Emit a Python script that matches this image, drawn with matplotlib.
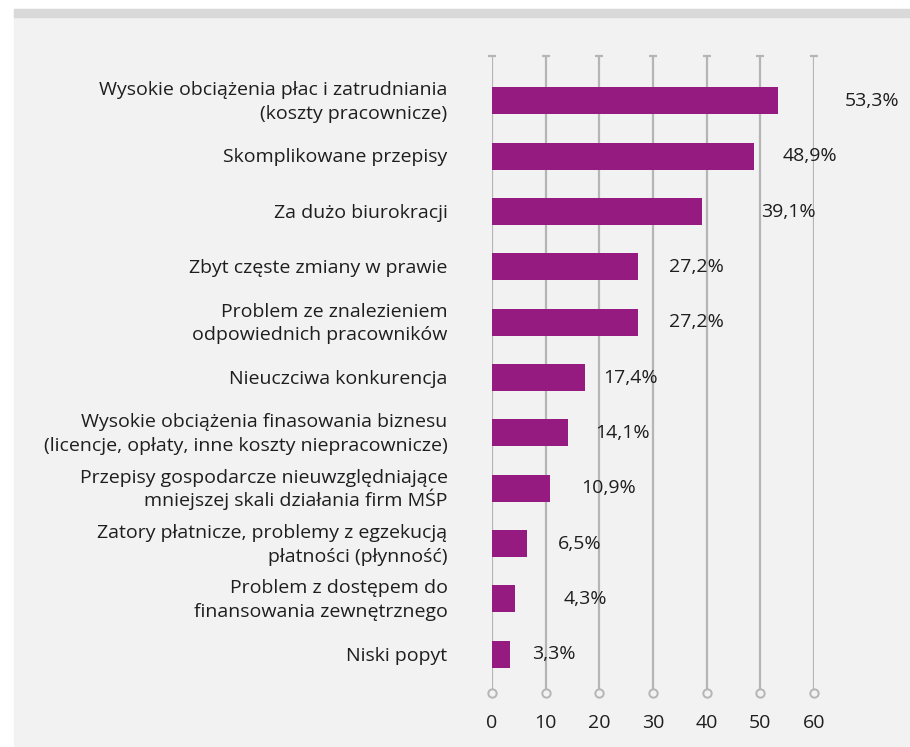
import numpy as np
import matplotlib.pyplot as plt
from matplotlib.patches import Rectangle

plt.rcParams['font.family'] = ['Open Sans', 'DejaVu Sans']

# Data
categories = [
    'Wysokie obciążenia płac i zatrudniania\n(koszty pracownicze)',
    'Skomplikowane przepisy',
    'Za dużo biurokracji',
    'Zbyt częste zmiany w prawie',
    'Problem ze znalezieniem\nodpowiednich pracowników',
    'Nieuczciwa konkurencja',
    'Wysokie obciążenia finasowania biznesu\n(licencje, opłaty, inne koszty niepracownicze)',
    'Przepisy gospodarcze nieuwzględniające\nmniejszej skali działania firm MŚP',
    'Zatory płatnicze, problemy z egzekucją\npłatności (płynność)',
    'Problem z dostępem do\nfinansowania zewnętrznego',
    'Niski popyt',
]
values = [53.3, 48.9, 39.1, 27.2, 27.2, 17.4, 14.1, 10.9, 6.5, 4.3, 3.3]
xticks = [0, 10, 20, 30, 40, 50, 60]

# gap between bar end and its label, in points (as in the original layout)
label_gap = [48, 20, 43, 22, 22, 13, 20, 22, 22, 35, 16]

bar_color = '#951b81'
grid_color = '#b5b5b5'
bg_color = '#f2f2f2'
text_color = '#1e1e1e'
fs = 14
line_step = 17   # points between lines of a category label
base_drop = 4.5  # baseline sits this far below the line's visual centre

fig = plt.figure(figsize=(9.10, 7.47), dpi=100)
fig.patch.set_facecolor('white')
fig.patches.append(Rectangle((14 / 910, 0), 1 - 14 / 910, 738 / 747,
                             transform=fig.transFigure, color=bg_color, zorder=-2))
fig.patches.append(Rectangle((14 / 910, 730 / 747), 1 - 14 / 910, 8 / 747,
                             transform=fig.transFigure, color='#d9d9d9', zorder=-1))

ax = fig.add_axes([492 / 910, 54 / 747, 322 / 910, 637 / 747])
ax.set_facecolor('none')

y = np.arange(len(categories))
ymin, ymax = -0.81, 10.7
ax.set_xlim(0, 60)
ax.set_ylim(ymax, ymin)

# vertical gridlines with caps and circles
ax.vlines(xticks, ymin, ymax, color=grid_color, lw=1.6, zorder=1)
ax.plot(xticks, [ymin] * len(xticks), '_', color=grid_color, ms=6, mew=1.6,
        zorder=2, clip_on=False)
ax.plot(xticks, [ymax] * len(xticks), 'o', mfc=bg_color, mec=grid_color, ms=6,
        mew=1.4, zorder=3, clip_on=False)

ax.barh(y, values, height=0.49, color=bar_color, zorder=2)

for yi, v, g in zip(y, values, label_gap):
    ax.annotate(f'{v:.1f}%'.replace('.', ','), (v, yi), xytext=(g, 0),
                textcoords='offset points', va='center', ha='left',
                fontsize=fs, color=text_color)

# category labels, one text per line so that accents don't change the spacing
for yi, cat in zip(y, categories):
    lines = cat.split('\n')
    n = len(lines)
    for k, line in enumerate(lines):
        dy = ((n - 1) / 2 - k) * line_step - base_drop
        ax.annotate(line, (0, yi), xycoords=('axes fraction', 'data'),
                    xytext=(-32, dy), textcoords='offset points',
                    ha='right', va='baseline', fontsize=fs, color=text_color)

ax.set_yticks([])
ax.set_xticks(xticks)
ax.set_xticklabels([str(t) for t in xticks], fontsize=fs, color=text_color)
ax.tick_params(axis='x', length=0, pad=15)
for s in ax.spines.values():
    s.set_visible(False)

plt.savefig('out.png', dpi=100)
